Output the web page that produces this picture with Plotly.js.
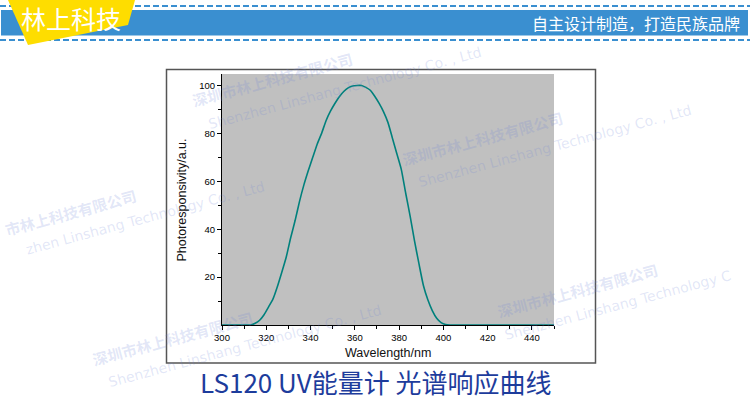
<!DOCTYPE html>
<html>
<head>
<meta charset="utf-8">
<script src="https://cdn.plot.ly/plotly-3.0.1.min.js"></script>
<style>html,body{margin:0;padding:0;background:#fff;}#chart{width:750px;height:400px;}</style>
</head>
<body>
<div id="chart"></div>
<script>
// ---- data ----
const wavelength = [300, 305, 310, 313, 315, 317, 319, 321, 323, 325, 327, 329, 331, 333, 335, 337, 339, 341, 343, 345, 347, 349, 351, 353, 355, 357, 359, 361, 363, 365, 367, 369, 371, 373, 375, 377, 379, 381, 383, 385, 387, 389, 391, 393, 395, 397, 399, 401, 403, 405, 410, 420, 430, 440, 450];
const response   = [0, 0, 0, 0, 0.7, 2, 4.3, 7.5, 10.8, 16, 22, 28.3, 36.3, 43.5, 51.5, 58.5, 64.5, 70, 75.5, 80, 85.3, 89.3, 92.5, 95.3, 97.5, 99, 99.8, 100, 100, 99.2, 98, 95.5, 92.5, 89, 84.5, 78, 71.5, 65, 55, 45.5, 35, 25.5, 16.5, 10.5, 6, 2.8, 1, 0.2, 0, 0, 0, 0, 0, 0, 0];
const yTickVals  = [20, 40, 60, 80, 100];
const yMinorVals = [10, 30, 50, 70, 90];
const xTitle = 'Wavelength/nm';
const yTitle = 'Photoresponsivity/a.u.';
const chartTitle = 'LS120 UV能量计 光谱响应曲线';
const brandText = '林上科技';
const sloganText = '自主设计制造，打造民族品牌';
const wmCN = '深圳市林上科技有限公司';
const wmEN = 'Shenzhen Linshang Technology Co. , Ltd';
const wmCNLeftPart = '市林上科技有限公司';
const wmENLeftPart = 'zhen Linshang Technology Co. , Ltd';
const wmENRightPart = 'Shenzhen Linshang Technology C';

// ---- helpers: pixel -> paper ----
const W = 750, H = 400;
const px = x => x / W;
const py = y => 1 - y / H;

const wmColor = 'rgba(110,130,215,0.2)';
const annotations = [];
function wm(x, y, text, cn) {
  annotations.push({xref:'paper', yref:'paper', x:px(x), y:py(y), text: cn ? '<b>'+text+'</b>' : text,
    showarrow:false, textangle:-15, xanchor:'center', yanchor:'middle',
    font: cn ? {family:'Noto Sans CJK SC', size:15, color:wmColor} : {family:'DejaVu Sans', size:14, color:wmColor}});
}
// full copies
[[272, 80], [482, 138], [172, 338]].forEach(c => { wm(c[0], c[1], wmCN, true); wm(c[0]+73, c[1]+8, wmEN, false); });
// copies cut by the picture edge: only their visible parts
wm(70, 212, wmCNLeftPart, true);
wm(145, 218, wmENLeftPart, false);
wm(577, 290, wmCN, true);
wm(618, 305, wmENRightPart, false);

annotations.push({xref:'paper', yref:'paper', x:px(71), y:py(18), text:brandText, showarrow:false,
  xanchor:'center', yanchor:'middle', font:{family:'Noto Sans CJK SC', size:25, color:'#ffffff'}});
annotations.push({xref:'paper', yref:'paper', x:px(742), y:py(22.5), text:sloganText, showarrow:false,
  xanchor:'right', yanchor:'middle', font:{family:'Noto Sans CJK SC', size:16, color:'#ffffff'}});
annotations.push({xref:'paper', yref:'paper', x:px(375.5), y:py(381), text:chartTitle, showarrow:false,
  xanchor:'center', yanchor:'middle', font:{family:'Noto Sans CJK SC', size:26, color:'#1d3c9c'}});
annotations.push({xref:'paper', yref:'paper', x:px(181.5), y:py(200), text:yTitle, showarrow:false, textangle:-90,
  xanchor:'center', yanchor:'middle', font:{family:'Arial, Liberation Sans', size:12.5, color:'#111'}});
annotations.push({xref:'paper', yref:'paper', x:px(388), y:py(352.5), text:xTitle, showarrow:false,
  xanchor:'center', yanchor:'middle', font:{family:'Arial, Liberation Sans', size:12.5, color:'#111'}});

const blue = '#3a8fd0';
const shapes = [
  {type:'rect', xref:'paper', yref:'paper', x0:px(1), x1:px(748), y0:py(35.5), y1:py(10), fillcolor:blue, line:{width:0}},
  {type:'line', xref:'paper', yref:'paper', x0:0, x1:1, y0:py(6), y1:py(6), line:{color:blue, width:2, dash:'6px,3px'}},
  {type:'line', xref:'paper', yref:'paper', x0:0, x1:1, y0:py(40), y1:py(40), line:{color:blue, width:2, dash:'6px,3px'}},
  {type:'path', xref:'paper', yref:'paper',
    path:'M '+px(8)+','+py(0)+' L '+px(135)+','+py(0)+' L '+px(128)+','+py(25)+' L '+px(28)+','+py(45)+' Z',
    fillcolor:'#fedd00', line:{width:0}},
  {type:'rect', xref:'paper', yref:'paper', x0:px(166.5), x1:px(595.5), y0:py(363), y1:py(69.5),
    fillcolor:'rgba(0,0,0,0)', line:{color:'#555555', width:1.5}}
];

const trace = {x: wavelength, y: response, type:'scatter', mode:'lines',
  line:{color:'#00807c', width:1.6, shape:'spline', smoothing:0.6}, hoverinfo:'skip'};

const tickFont = {family:'Arial, Liberation Sans', size:9.5, color:'#000'};
const layout = {
  width: W, height: H,
  margin:{l:0, r:0, t:0, b:0},
  paper_bgcolor:'#ffffff', plot_bgcolor:'#c0c0c0',
  showlegend:false,
  xaxis:{domain:[px(222), px(554)], range:[300, 450], tickmode:'linear', tick0:300, dtick:20,
    ticks:'outside', ticklen:4, tickwidth:1, tickcolor:'#000', showline:true, linecolor:'#000', linewidth:1,
    showgrid:false, zeroline:false, tickfont:tickFont, automargin:false,
    minor:{tickmode:'linear', tick0:300, dtick:10, ticks:'outside', ticklen:3, tickcolor:'#000', showgrid:false}},
  yaxis:{domain:[py(325), py(74)], range:[0, 104.8], tickmode:'array', tickvals:yTickVals,
    ticks:'outside', ticklen:4, tickwidth:1, tickcolor:'#000', showline:true, linecolor:'#000', linewidth:1,
    showgrid:false, zeroline:false, tickfont:tickFont, automargin:false,
    minor:{tickmode:'array', tickvals:yMinorVals, ticks:'outside', ticklen:3, tickcolor:'#000', showgrid:false}},
  shapes: shapes,
  annotations: annotations
};

Plotly.newPlot('chart', [trace], layout, {staticPlot:true, displayModeBar:false});
</script>
</body>
</html>
